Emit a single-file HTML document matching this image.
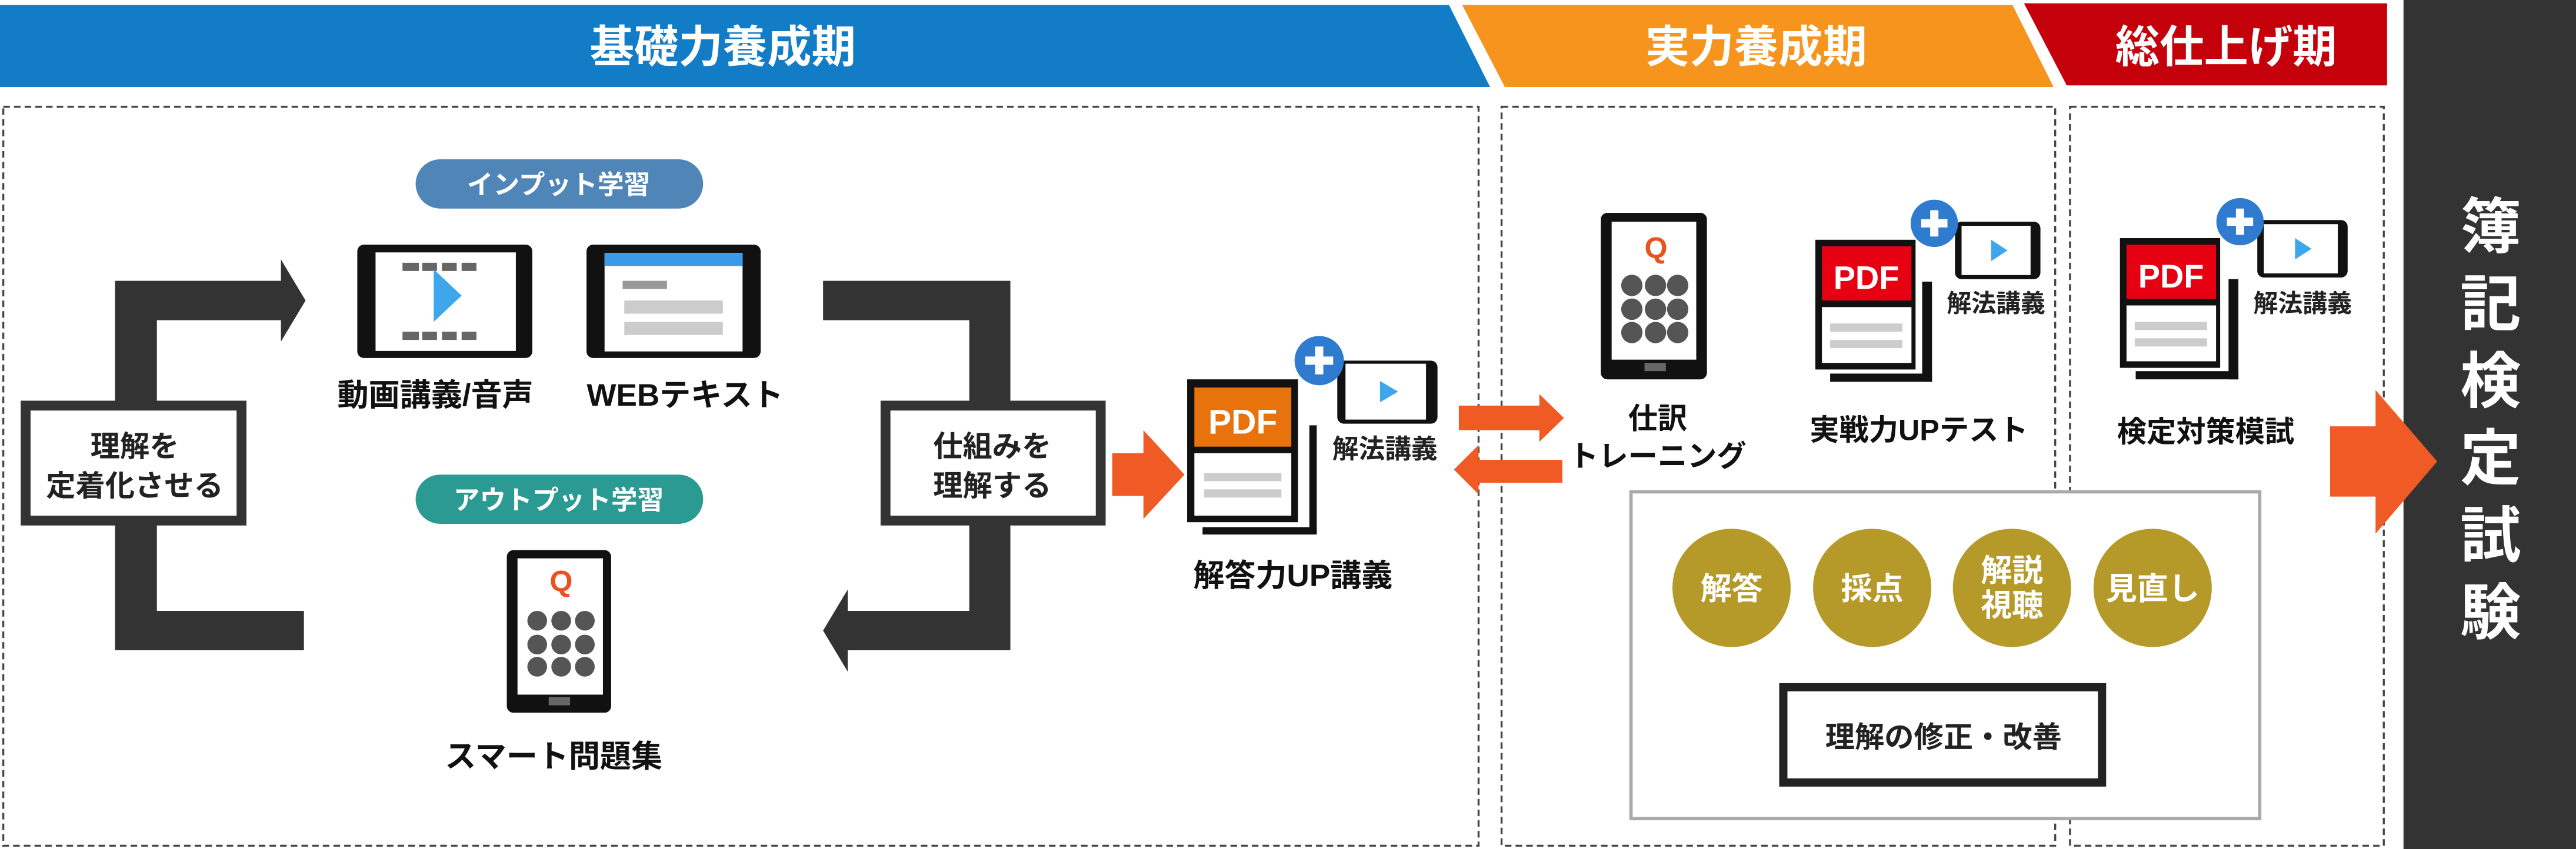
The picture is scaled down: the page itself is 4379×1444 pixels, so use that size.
<!DOCTYPE html>
<html><head><meta charset="utf-8"><style>
html,body{margin:0;padding:0;background:#fff;}
svg{display:block;}
text{font-family:"Liberation Sans","Noto Sans CJK JP",sans-serif;font-weight:bold;}
</style></head><body>
<svg width="4379" height="1444" viewBox="0 0 1568 517" preserveAspectRatio="none" xmlns="http://www.w3.org/2000/svg">
<!-- headers -->
<polygon points="0,3 882,3 907,53 0,53" fill="#127cc6"/>
<text x="440" y="38" font-size="27" fill="#fff" text-anchor="middle">基礎力養成期</text>
<polygon points="890,3 1225,3 1250,53 916,53" fill="#f7941d"/>
<text x="1069" y="38" font-size="27" fill="#fff" text-anchor="middle">実力養成期</text>
<polygon points="1232,2 1453,2 1453,52 1258,52" fill="#c4000b"/>
<text x="1355" y="38" font-size="27" fill="#fff" text-anchor="middle">総仕上げ期</text>
<rect x="1463" y="0" width="105" height="517" fill="#333"/>
<g font-size="37" fill="#fff" text-anchor="middle">
<text x="1516" y="151">簿</text><text x="1516" y="198">記</text><text x="1516" y="245">検</text>
<text x="1516" y="292">定</text><text x="1516" y="339">試</text><text x="1516" y="386">験</text>
</g>
<!-- dashed boxes -->
<g fill="none" stroke="#444" stroke-width="1.2" stroke-dasharray="4,2.5">
<rect x="2" y="65" width="898" height="450"/>
<rect x="914" y="65" width="337" height="450"/>
<rect x="1260" y="65" width="191" height="450"/>
</g>
<!-- left bracket -->
<path d="M70,171 H171 V158 L186,183 L171,208 V195 H95.5 V372 H185 V396 H70 Z" fill="#333"/>
<rect x="12.6" y="244" width="137.4" height="76" fill="#333"/>
<rect x="18.6" y="250" width="125.4" height="64" fill="#fff"/>
<g font-size="18" fill="#222" text-anchor="middle"><text x="82" y="278">理解を</text><text x="82" y="302">定着化させる</text></g>
<!-- right bracket -->
<path d="M501,171 H615 V396 H516 V409 L501,384 L516,359 V372 H590 V195 H501 Z" fill="#333"/>
<rect x="536" y="244" width="137" height="76" fill="#333"/>
<rect x="542" y="250" width="125" height="64" fill="#fff"/>
<g font-size="18" fill="#222" text-anchor="middle"><text x="604" y="278">仕組みを</text><text x="604" y="302">理解する</text></g>
<!-- pills -->
<rect x="253" y="97" width="175" height="30" rx="15" fill="#4f86b7"/>
<text x="340" y="118" font-size="16" fill="#fff" text-anchor="middle">インプット学習</text>
<rect x="253" y="289" width="175" height="30" rx="15" fill="#2a9a92"/>
<text x="340" y="310" font-size="16" fill="#fff" text-anchor="middle">アウトプット学習</text>
<!-- video tablet -->
<rect x="217.5" y="149" width="106.5" height="69" rx="4" fill="#111"/>
<rect x="228.6" y="153.7" width="85.4" height="60" fill="#fff"/>
<g fill="#666"><rect x="245" y="160" width="10" height="5"/><rect x="257" y="160" width="9" height="5"/><rect x="269" y="160" width="9" height="5"/><rect x="281" y="160" width="9" height="5"/>
<rect x="245" y="202" width="10" height="5"/><rect x="257" y="202" width="9" height="5"/><rect x="269" y="202" width="9" height="5"/><rect x="281" y="202" width="9" height="5"/></g>
<polygon points="264,164 281,180 264,196" fill="#3ea6ec"/>
<!-- web tablet -->
<rect x="357" y="149" width="106" height="69" rx="4" fill="#111"/>
<rect x="368" y="154" width="84" height="60" fill="#fff"/>
<rect x="368" y="154" width="84" height="8" fill="#3a9ae8"/>
<rect x="379" y="171" width="27" height="5" fill="#999"/>
<rect x="380" y="183" width="60" height="8" fill="#ccc"/>
<rect x="380" y="196" width="60" height="8" fill="#ccc"/>
<g font-size="19" fill="#111" text-anchor="middle"><text x="265" y="247">動画講義/音声</text><text x="417" y="247">WEBテキスト</text></g>
<!-- phone left -->
<rect x="308.5" y="335" width="63.5" height="99" rx="4" fill="#111"/>
<rect x="315" y="340" width="52" height="83" fill="#fff"/>
<text x="341.6" y="360" font-size="18" fill="#e8531f" text-anchor="middle" font-weight="normal">Q</text>
<g fill="#555"><circle cx="327" cy="378" r="6"/><circle cx="341.6" cy="378" r="6"/><circle cx="356" cy="378" r="6"/>
<circle cx="327" cy="392.5" r="6"/><circle cx="341.6" cy="392.5" r="6"/><circle cx="356" cy="392.5" r="6"/>
<circle cx="327" cy="406" r="6"/><circle cx="341.6" cy="406" r="6"/><circle cx="356" cy="406" r="6"/></g>
<rect x="334" y="424.5" width="13" height="5" fill="#666"/>
<text x="337" y="467" font-size="19" fill="#111" text-anchor="middle">スマート問題集</text>
<!-- orange arrow to PDF -->
<polygon points="677,276 696,276 696,262 721,289 696,316 696,302 677,302" fill="#f05a24"/>
<!-- PDF orange -->
<rect x="797" y="259" width="4.5" height="66" fill="#111"/>
<rect x="732" y="321" width="69.5" height="4.5" fill="#111"/>
<rect x="722.6" y="231" width="67.5" height="87" fill="#111"/>
<rect x="727" y="236" width="59" height="36" fill="#e8720c"/>
<rect x="727" y="276" width="59" height="38" fill="#fff"/>
<rect x="733" y="288" width="47" height="5" fill="#ccc"/>
<rect x="733" y="298" width="47" height="5" fill="#ccc"/>
<text x="756.5" y="264" font-size="21" fill="#fff" text-anchor="middle" font-weight="normal">PDF</text>
<rect x="814" y="219.6" width="61" height="38.4" rx="4" fill="#111"/>
<rect x="819" y="221.5" width="49" height="34" fill="#fff"/>
<polygon points="840,232 851,238.5 840,245" fill="#3ea6ec"/>
<circle cx="803" cy="219.6" r="15" fill="#2f7bd0"/>
<path d="M803,211 V228 M794.5,219.6 H811.5" stroke="#fff" stroke-width="5"/>
<text x="843" y="279" font-size="16" fill="#222" text-anchor="middle">解法講義</text>
<text x="787" y="357" font-size="19" fill="#111" text-anchor="middle">解答力UP講義</text>
<!-- double arrows -->
<polygon points="888,247 937,247 937,240 952,254.5 937,269 937,262 888,262" fill="#f05a24"/>
<polygon points="951,280 900,280 900,271 885,286 900,301 900,294 951,294" fill="#f05a24"/>
<!-- phone right -->
<rect x="974.4" y="129.6" width="64.6" height="101.4" rx="4" fill="#111"/>
<rect x="981" y="135" width="51.5" height="84" fill="#fff"/>
<text x="1008" y="157" font-size="18" fill="#e8531f" text-anchor="middle" font-weight="normal">Q</text>
<g fill="#555"><circle cx="993.3" cy="173.8" r="6.5"/><circle cx="1007.7" cy="173.8" r="6.5"/><circle cx="1021.2" cy="173.8" r="6.5"/>
<circle cx="993.3" cy="188.3" r="6.5"/><circle cx="1007.7" cy="188.3" r="6.5"/><circle cx="1021.2" cy="188.3" r="6.5"/>
<circle cx="993.3" cy="202.5" r="6.5"/><circle cx="1007.7" cy="202.5" r="6.5"/><circle cx="1021.2" cy="202.5" r="6.5"/></g>
<rect x="1001" y="221" width="13" height="5" fill="#666"/>
<g font-size="18" fill="#111" text-anchor="middle"><text x="1009" y="261">仕訳</text><text x="1009" y="284">トレーニング</text></g>
<!-- PDF red 1 -->
<rect x="1170" y="171.5" width="6" height="61" fill="#111"/>
<rect x="1114" y="227.5" width="62" height="5" fill="#111"/>
<rect x="1105" y="146" width="61" height="79" fill="#111"/>
<rect x="1109" y="150" width="54.5" height="33" fill="#e60012"/>
<rect x="1109" y="187" width="54.5" height="34" fill="#fff"/>
<rect x="1114" y="197" width="44" height="5" fill="#ccc"/>
<rect x="1114" y="207" width="44" height="5" fill="#ccc"/>
<text x="1136" y="176" font-size="20" fill="#fff" text-anchor="middle" font-weight="normal">PDF</text>
<rect x="1190" y="135" width="52" height="35" rx="4" fill="#111"/>
<rect x="1194" y="137.5" width="42" height="30" fill="#fff"/>
<polygon points="1212,146 1222,152.5 1212,159" fill="#3ea6ec"/>
<circle cx="1177.4" cy="136" r="14.4" fill="#2f7bd0"/>
<path d="M1177.4,128 V144 M1169.4,136 H1185.4" stroke="#fff" stroke-width="5"/>
<text x="1215" y="190" font-size="15" fill="#222" text-anchor="middle">解法講義</text>
<text x="1168" y="268" font-size="18" fill="#111" text-anchor="middle">実戦力UPテスト</text>
<!-- PDF red 2 -->
<rect x="1356.5" y="170" width="6" height="61" fill="#111"/>
<rect x="1300" y="226" width="62.5" height="5" fill="#111"/>
<rect x="1290.4" y="145" width="61" height="79" fill="#111"/>
<rect x="1294.4" y="149" width="54.5" height="33" fill="#e60012"/>
<rect x="1294.4" y="186" width="54.5" height="34" fill="#fff"/>
<rect x="1299.4" y="196" width="44" height="5" fill="#ccc"/>
<rect x="1299.4" y="206" width="44" height="5" fill="#ccc"/>
<text x="1321.5" y="175" font-size="20" fill="#fff" text-anchor="middle" font-weight="normal">PDF</text>
<rect x="1374" y="134" width="55" height="35" rx="4" fill="#111"/>
<rect x="1378" y="136.5" width="45" height="30" fill="#fff"/>
<polygon points="1397,145 1407,151.5 1397,158" fill="#3ea6ec"/>
<circle cx="1363.5" cy="135" r="14.4" fill="#2f7bd0"/>
<path d="M1363.5,127 V143 M1355.5,135 H1371.5" stroke="#fff" stroke-width="5"/>
<text x="1401.6" y="190" font-size="15" fill="#222" text-anchor="middle">解法講義</text>
<text x="1342.6" y="269" font-size="18" fill="#111" text-anchor="middle">検定対策模試</text>
<!-- big arrow -->
<polygon points="1418.3,259.6 1446,259.6 1446,237.5 1483.5,281 1446,325 1446,302.4 1418.3,302.4" fill="#f05a24"/>
<!-- gray box -->
<rect x="992.8" y="299.5" width="382.7" height="199" fill="#fff" stroke="#aaa" stroke-width="2"/>
<g fill="#b59a2a"><circle cx="1054" cy="358" r="36"/><circle cx="1139.6" cy="358" r="36"/><circle cx="1224.7" cy="358" r="36"/><circle cx="1310.3" cy="358" r="36"/></g>
<g font-size="19" fill="#fff" text-anchor="middle">
<text x="1054" y="365">解答</text><text x="1139.6" y="365">採点</text>
<text x="1224.7" y="354">解説</text><text x="1224.7" y="375">視聴</text>
<text x="1310.3" y="365">見直し</text></g>
<rect x="1085.5" y="418.5" width="194" height="58" fill="#fff" stroke="#222" stroke-width="5"/>
<text x="1183" y="455" font-size="18" fill="#222" text-anchor="middle">理解の修正・改善</text>
</svg>
</body></html>
